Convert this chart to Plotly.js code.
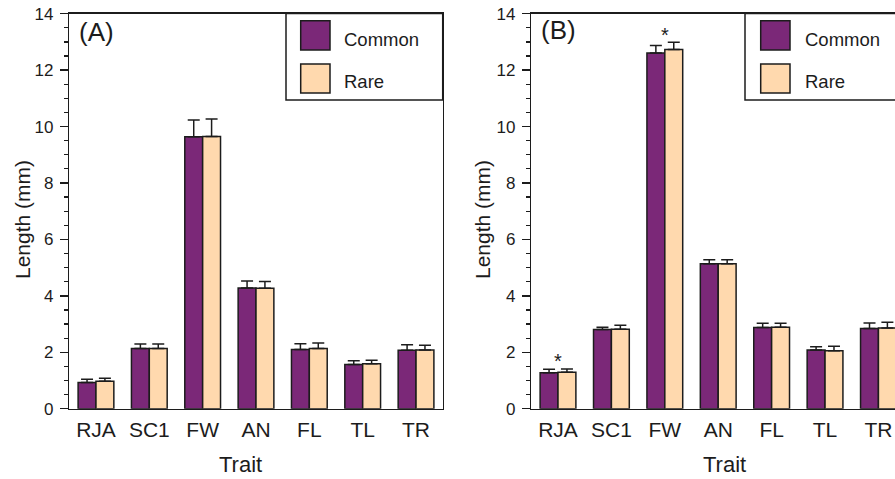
<!DOCTYPE html>
<html>
<head>
<meta charset="utf-8">
<script src="https://cdn.plot.ly/plotly-3.0.1.min.js"></script>
<style>html,body{margin:0;padding:0;background:#fff;}#chart{width:895px;height:479px;}</style>
</head>
<body>
<div id="chart"></div>
<script>
var categories = ['RJA', 'SC1', 'FW', 'AN', 'FL', 'TL', 'TR'];
var groupNames = ['Common', 'Rare'];
var aCommon   = [0.93, 2.13, 9.64, 4.28, 2.10, 1.57, 2.07];
var aCommonSE = [0.11, 0.16, 0.59, 0.25, 0.20, 0.13, 0.20];
var aRare     = [0.97, 2.13, 9.65, 4.27, 2.13, 1.595, 2.08];
var aRareSE   = [0.11, 0.16, 0.62, 0.24, 0.20, 0.12, 0.17];
var bCommon   = [1.275, 2.81, 12.61, 5.135, 2.88, 2.08, 2.845];
var bCommonSE = [0.12, 0.08, 0.26, 0.14, 0.15, 0.12, 0.19];
var bRare     = [1.29, 2.82, 12.73, 5.135, 2.89, 2.05, 2.86];
var bRareSE   = [0.12, 0.14, 0.26, 0.14, 0.14, 0.16, 0.20];
var yTicks = [0, 2, 4, 6, 8, 10, 12, 14];
var sigB = ['RJA', 'FW'];
var sigBy = [1.68, 13.24];

var W = 895, H = 479;
var PURPLE = '#7b2878', PEACH = '#ffd9ae', INK = '#1c1c1c';
var FONT = 'Liberation Sans, Arial, Helvetica, sans-serif';
function px(x) { return x / W; }
function py(y) { return 1 - y / H; }

function barTrace(xa, ya, name, vals, se, color) {
  return {
    type: 'bar', x: categories, y: vals, name: name, xaxis: xa, yaxis: ya,
    marker: {color: color, line: {color: INK, width: 1.5}},
    error_y: {type: 'data', symmetric: false, array: se, arrayminus: se.map(function(){return 0;}),
              color: INK, thickness: 1.5, width: 6},
    showlegend: false, hoverinfo: 'x+y'
  };
}

var data = [
  barTrace('x', 'y', groupNames[0], aCommon, aCommonSE, PURPLE),
  barTrace('x', 'y', groupNames[1], aRare, aRareSE, PEACH),
  barTrace('x2', 'y2', groupNames[0], bCommon, bCommonSE, PURPLE),
  barTrace('x2', 'y2', groupNames[1], bRare, bRareSE, PEACH)
];

var yDomain = [py(408.7), py(13.7)];
function yAxis(anchor, mirror) {
  return {
    domain: yDomain, anchor: anchor, range: [0, 14], tickvals: yTicks,
    ticks: 'outside', ticklen: 8, tickwidth: 1.5, tickcolor: INK,
    minor: {dtick: 0.5, ticks: 'outside', ticklen: 4, tickwidth: 1.2, tickcolor: INK},
    showline: true, linecolor: INK, linewidth: 1.5, mirror: mirror,
    showgrid: false, zeroline: false,
    tickfont: {family: FONT, size: 17, color: INK}, ticklabelstandoff: 3, fixedrange: true
  };
}
function xAxis(anchor, domain, range) {
  return {
    domain: domain, anchor: anchor, range: range, type: 'category',
    ticks: '', showline: true, linecolor: INK, linewidth: 1.5, mirror: true,
    showgrid: false, zeroline: false,
    tickfont: {family: FONT, size: 21, color: INK}, ticklabelstandoff: 2, fixedrange: true
  };
}

var shapes = [];
var annotations = [];
function legend(x0, x1, sx0, tx) {
  shapes.push({type: 'rect', xref: 'paper', yref: 'paper', x0: px(x0), x1: px(x1), y0: py(100), y1: py(13.5),
               line: {color: INK, width: 1.5}, fillcolor: '#ffffff', layer: 'above'});
  var rows = [[20.7, 50, PURPLE, 39, groupNames[0]], [64, 93, PEACH, 82, groupNames[1]]];
  rows.forEach(function(r) {
    shapes.push({type: 'rect', xref: 'paper', yref: 'paper', x0: px(sx0), x1: px(sx0 + 29.3), y0: py(r[1]), y1: py(r[0]),
                 line: {color: INK, width: 1.5}, fillcolor: r[2], layer: 'above'});
    annotations.push({xref: 'paper', yref: 'paper', x: px(tx), y: py(r[3]), xanchor: 'left', yanchor: 'middle',
                      text: r[4], showarrow: false, font: {family: FONT, size: 18.5, color: INK}});
  });
}
legend(286, 442.7, 300.7, 342);
legend(745, 900, 760.7, 803);

function textAt(x, y, t, size, rot, yanch) {
  annotations.push({xref: 'paper', yref: 'paper', x: px(x), y: py(y), xanchor: 'center', yanchor: yanch || 'middle',
                    text: t, showarrow: false, textangle: rot || 0, font: {family: FONT, size: size, color: INK}});
}
textAt(240.5, 479, 'Trait', 22, 0, 'bottom');
textAt(724, 479, 'Trait', 22, 0, 'bottom');
textAt(22, 220, 'Length (mm)', 21, -90);
textAt(482, 220, 'Length (mm)', 21, -90);
annotations.push({xref: 'paper', yref: 'paper', x: px(77), y: py(32), xanchor: 'left', yanchor: 'middle',
                  text: '(A)', showarrow: false, font: {family: FONT, size: 26, color: INK}});
annotations.push({xref: 'paper', yref: 'paper', x: px(539), y: py(30), xanchor: 'left', yanchor: 'middle',
                  text: '(B)', showarrow: false, font: {family: FONT, size: 26, color: INK}});
sigB.forEach(function(c, i) {
  annotations.push({xref: 'x2', yref: 'y2', x: c, y: sigBy[i], xanchor: 'center', yanchor: 'middle',
                    text: '*', showarrow: false, font: {family: FONT, size: 20, color: INK}});
});

var layout = {
  width: W, height: H, margin: {l: 0, r: 0, t: 0, b: 0},
  paper_bgcolor: '#ffffff', plot_bgcolor: '#ffffff',
  barmode: 'group', bargap: 0.33, bargroupgap: 0,
  xaxis: xAxis('y', [px(69.3), px(442.7)], [-0.5, 6.5]),
  yaxis: yAxis('x', true),
  xaxis2: xAxis('y2', [px(531.3), 1], [-0.5, 6.31]),
  yaxis2: yAxis('x2', false),
  shapes: shapes, annotations: annotations, showlegend: false,
  font: {family: FONT, color: INK}
};

Plotly.newPlot('chart', data, layout, {displayModeBar: false, staticPlot: true});
</script>
</body>
</html>
